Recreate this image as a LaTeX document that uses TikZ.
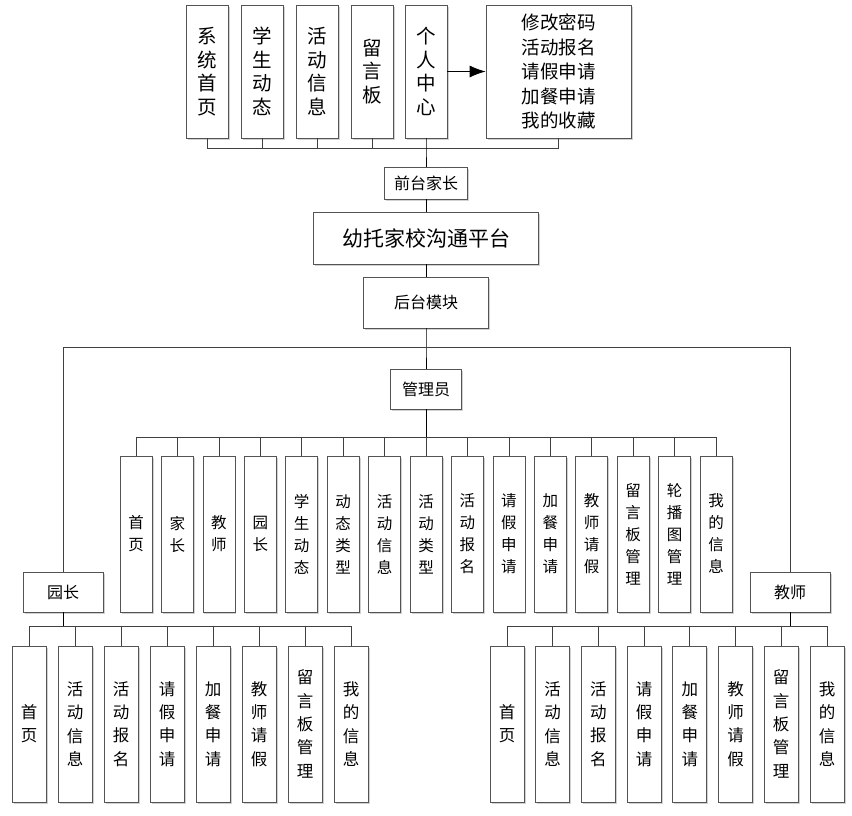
\documentclass[tikz,border=0pt]{standalone}
\usepackage{fontspec}
\newfontfamily\cjk{Noto Sans CJK SC}
\usetikzlibrary{arrows.meta,shadows}
\definecolor{boxgray}{rgb}{0.33,0.33,0.33}

\begin{document}
\begin{tikzpicture}[x=1pt,y=-1pt,line width=0.8pt,>={Latex[length=16pt,width=12pt]},
  box/.style={draw=boxgray,fill=white,inner sep=0pt,align=center,
    drop shadow={shadow xshift=1.5pt,shadow yshift=-1.5pt,fill=black!18,opacity=1}},
  topbox/.style={box,minimum width=42pt,minimum height=133pt,font=\cjk\fontsize{19.5}{23.5}\selectfont},
  subbox/.style={box,minimum width=32pt,minimum height=156pt,font=\cjk\fontsize{15.5}{22}\selectfont},
  leafbox/.style={box,minimum width=34pt,minimum height=156pt,font=\cjk\fontsize{16.5}{23.3}\selectfont},
  rolebox/.style={box,font=\cjk\fontsize{16}{20}\selectfont},
  wire/.style={draw=black!75}]
  \fill[white] (0,0) rectangle (852,815);
  \useasboundingbox (0,0) rectangle (852,815);
  % front end
  \node[topbox] (xtsy) at (207,71.5) {系\\统\\首\\页};
  \node[topbox] (xsdt) at (262,71.5) {学\\生\\动\\态};
  \node[topbox] (hdxx) at (317,71.5) {活\\动\\信\\息};
  \node[topbox] (lyb) at (372,71.5) {留\\言\\板};
  \node[topbox] (grzx) at (426,71.5) {个\\人\\中\\心};
  \node[box,minimum width=145pt,minimum height=133pt,font=\cjk\fontsize{18.5}{24.5}\selectfont] (grgn) at (558.5,71.5) {修改密码\\活动报名\\请假申请\\加餐申请\\我的收藏};
  \node[rolebox,minimum width=83pt,minimum height=32pt] (qtjz) at (426,183) {前台家长};
  \node[box,minimum width=225pt,minimum height=52pt,font=\cjk\fontsize{21}{24}\selectfont] (pt) at (426,238) {幼托家校沟通平台};
  \node[rolebox,minimum width=125pt,minimum height=51pt] (htmk) at (426,302.5) {后台模块};
  % back end roles
  \node[rolebox,minimum width=71pt,minimum height=40pt] (gly) at (426,389) {管理员};
  \node[rolebox,minimum width=80pt,minimum height=40pt] (yz) at (63,592) {园长};
  \node[rolebox,minimum width=80pt,minimum height=40pt] (js) at (790,592) {教师};
  % administrator
  \node[subbox] (gsy) at (136,534) {首\\页};
  \node[subbox] (gjz) at (177.4,534) {家\\长};
  \node[subbox] (gjs) at (218.9,534) {教\\师};
  \node[subbox] (gyz) at (260.3,534) {园\\长};
  \node[subbox] (gxsdt) at (301.7,534) {学\\生\\动\\态};
  \node[subbox] (gdtlx) at (343.1,534) {动\\态\\类\\型};
  \node[subbox] (ghdxx) at (384.6,534) {活\\动\\信\\息};
  \node[subbox] (ghdlx) at (426,534) {活\\动\\类\\型};
  \node[subbox] (ghdbm) at (467.4,534) {活\\动\\报\\名};
  \node[subbox] (gqjsq) at (508.9,534) {请\\假\\申\\请};
  \node[subbox] (gjcsq) at (550.3,534) {加\\餐\\申\\请};
  \node[subbox] (gjsqj) at (591.7,534) {教\\师\\请\\假};
  \node[subbox] (glybgl) at (633.1,534) {留\\言\\板\\管\\理};
  \node[subbox] (glbtgl) at (674.6,534) {轮\\播\\图\\管\\理};
  \node[subbox] (gwdxx) at (716,534) {我\\的\\信\\息};
  % kindergarten head
  \node[leafbox] (ysy) at (29,724) {首\\页};
  \node[leafbox] (yhdxx) at (75,724) {活\\动\\信\\息};
  \node[leafbox] (yhdbm) at (121,724) {活\\动\\报\\名};
  \node[leafbox] (yqjsq) at (167,724) {请\\假\\申\\请};
  \node[leafbox] (yjcsq) at (213,724) {加\\餐\\申\\请};
  \node[leafbox] (yjsqj) at (259,724) {教\\师\\请\\假};
  \node[leafbox] (ylybgl) at (305,724) {留\\言\\板\\管\\理};
  \node[leafbox] (ywdxx) at (351,724) {我\\的\\信\\息};
  % teacher
  \node[leafbox] (jsy) at (507,724) {首\\页};
  \node[leafbox] (jhdxx) at (552.7,724) {活\\动\\信\\息};
  \node[leafbox] (jhdbm) at (598.4,724) {活\\动\\报\\名};
  \node[leafbox] (jqjsq) at (644.1,724) {请\\假\\申\\请};
  \node[leafbox] (jjcsq) at (689.8,724) {加\\餐\\申\\请};
  \node[leafbox] (jjsqj) at (735.5,724) {教\\师\\请\\假};
  \node[leafbox] (jlybgl) at (781.2,724) {留\\言\\板\\管\\理};
  \node[leafbox] (jwdxx) at (827,724) {我\\的\\信\\息};
  % bus points
  \coordinate (topbus) at (426,148);
  \coordinate (hbus) at (426,347);
  \coordinate (glybus) at (426,437);
  \coordinate (yzbus) at (63,626);
  \coordinate (jsbus) at (790,626);
  % connectors
  \draw[->,black] (grzx) -- (grgn);
  \draw[wire] (xtsy.south) |- (topbus);
  \draw[wire] (xsdt.south) |- (topbus);
  \draw[wire] (hdxx.south) |- (topbus);
  \draw[wire] (lyb.south) |- (topbus);
  \draw[wire] (grgn.south) |- (topbus);
  \draw[black] (grzx.south) -- (topbus) -- (qtjz);
  \draw[black] (qtjz) -- (pt);
  \draw[black] (pt) -- (htmk);
  \draw[black] (htmk) -- (hbus) -- (gly);
  \draw[wire] (yz.north) |- (hbus);
  \draw[wire] (js.north) |- (hbus);
  \draw[black] (gly) -- (glybus);
  \draw[wire] (gsy.north) |- (glybus);
  \draw[wire] (gjz.north) |- (glybus);
  \draw[wire] (gjs.north) |- (glybus);
  \draw[wire] (gyz.north) |- (glybus);
  \draw[wire] (gxsdt.north) |- (glybus);
  \draw[wire] (gdtlx.north) |- (glybus);
  \draw[wire] (ghdxx.north) |- (glybus);
  \draw[wire] (ghdlx.north) |- (glybus);
  \draw[wire] (ghdbm.north) |- (glybus);
  \draw[wire] (gqjsq.north) |- (glybus);
  \draw[wire] (gjcsq.north) |- (glybus);
  \draw[wire] (gjsqj.north) |- (glybus);
  \draw[wire] (glybgl.north) |- (glybus);
  \draw[wire] (glbtgl.north) |- (glybus);
  \draw[wire] (gwdxx.north) |- (glybus);
  \draw[black] (yz) -- (yzbus);
  \draw[wire] (ysy.north) |- (yzbus);
  \draw[wire] (yhdxx.north) |- (yzbus);
  \draw[wire] (yhdbm.north) |- (yzbus);
  \draw[wire] (yqjsq.north) |- (yzbus);
  \draw[wire] (yjcsq.north) |- (yzbus);
  \draw[wire] (yjsqj.north) |- (yzbus);
  \draw[wire] (ylybgl.north) |- (yzbus);
  \draw[wire] (ywdxx.north) |- (yzbus);
  \draw[black] (js) -- (jsbus);
  \draw[wire] (jsy.north) |- (jsbus);
  \draw[wire] (jhdxx.north) |- (jsbus);
  \draw[wire] (jhdbm.north) |- (jsbus);
  \draw[wire] (jqjsq.north) |- (jsbus);
  \draw[wire] (jjcsq.north) |- (jsbus);
  \draw[wire] (jjsqj.north) |- (jsbus);
  \draw[wire] (jlybgl.north) |- (jsbus);
  \draw[wire] (jwdxx.north) |- (jsbus);
\end{tikzpicture}
\end{document}
